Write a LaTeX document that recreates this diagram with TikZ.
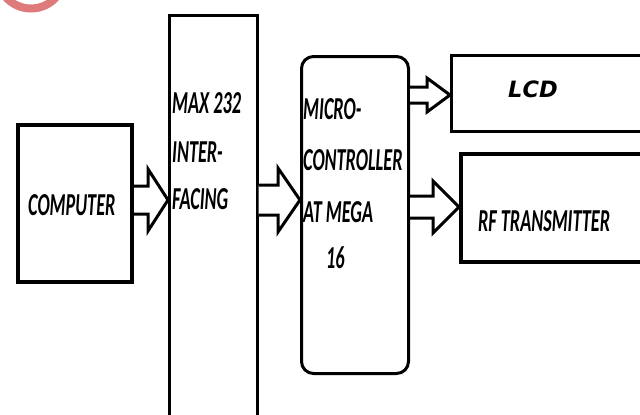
\documentclass[tikz,border=0pt]{standalone}
\usepackage{fontspec}
\usetikzlibrary{calc}
\newfontfamily\lblfont[FakeStretch=0.57]{Carlito}
\newfontfamily\lcdfont{DejaVu Sans}
\definecolor{logopink}{RGB}{222,122,122}
\tikzset{
  box/.style={draw=black, line width=3pt, fill=white, inner sep=0pt, anchor=north west},
  lbl/.style={anchor=base west, inner sep=0pt, font=\lblfont\bfseries\itshape\fontsize{32}{32}\selectfont},
  lcdlbl/.style={anchor=base west, inner sep=0pt, font=\lcdfont\bfseries\itshape\fontsize{22.5}{22.5}\selectfont},
  barrowstyle/.style={draw=black, line width=3pt, fill=white, line join=miter}
}
% #1 start point, #2 tip point, #3 shaft half height, #4 head half height, #5 head length
\newcommand\blkarrow[5]{%
  \draw[barrowstyle] let \p1=#1, \p2=#2 in
    (\x1,\y1+#3pt) -- (\x2-#5pt,\y1+#3pt) -- (\x2-#5pt,\y1+#4pt) -- (\x2,\y1)
    -- (\x2-#5pt,\y1-#4pt) -- (\x2-#5pt,\y1-#3pt) -- (\x1,\y1-#3pt);}
\begin{document}
\begin{tikzpicture}[x=1pt,y=-1pt]
\clip (0,0) rectangle (640,415);
\fill[white] (0,0) rectangle (640,415);
% logo remnant
\draw[logopink, line width=8pt] (31,-25) circle[radius=33.5];
% boxes
\node[box, line width=4pt, minimum width=114pt, minimum height=157pt] (comp) at (16,123) {};
\node[box, line width=2.5pt, minimum width=88pt, minimum height=420pt] (max) at (168,14) {};
\node[box, rounded corners=12pt, minimum width=107pt, minimum height=317pt] (mcu) at (300,55) {};
\node[box, minimum width=220pt, minimum height=76pt] (lcd) at (450,54) {};
\node[box, line width=4pt, minimum width=220pt, minimum height=108pt] (rf) at (459,152) {};
% texts
\node[lbl] (tcomp) at (28,215) {COMPUTER};
\node[lbl] (tmax1) at (172,113) {MAX 232};
\node[lbl] (tmax2) at (172,162) {INTER-};
\node[lbl] (tmax3) at (172,209) {FACING};
\node[lbl] (tmcu1) at (303,119) {MICRO-};
\node[lbl] (tmcu2) at (303,170) {CONTROLLER};
\node[lbl] (tmcu3) at (303,222) {AT MEGA};
\node[lbl] (tmcu4) at (326,268) {16};
\node[lcdlbl] (tlcd) at (508,97) {LCD};
\node[lbl] (trf) at (478,231) {RF TRANSMITTER};
% anchor points for block arrows
\coordinate (a1s) at (comp.east |- 0,200);
\coordinate (a1e) at (max.west |- 0,200);
\coordinate (a2s) at (max.east |- 0,200);
\coordinate (a2e) at (mcu.west |- 0,200);
\coordinate (a3s) at (mcu.east |- 0,95);
\coordinate (a3e) at (lcd.west |- 0,95);
\coordinate (a4s) at (mcu.east |- 0,207);
\coordinate (a4e) at (rf.west |- 0,207);
\blkarrow{(a1s)}{(a1e)}{14}{31}{20}
\blkarrow{(a2s)}{(a2e)}{15}{32}{22}
\blkarrow{(a3s)}{(a3e)}{8}{17}{23}
\blkarrow{(a4s)}{(a4e)}{11}{26}{26}
\end{tikzpicture}
\end{document}
